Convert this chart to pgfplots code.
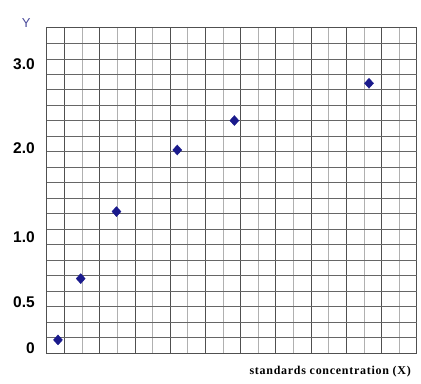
\documentclass[border=0pt]{standalone}
\usepackage{fontspec}
\setmainfont{Liberation Sans}
\newfontfamily\serifbold[LetterSpace=6]{Liberation Serif}
\usepackage{pgfplots}
\pgfplotsset{compat=1.18}
\definecolor{mk}{HTML}{1A1A8C}
\definecolor{ylab}{HTML}{4B4B9B}
\definecolor{gdark}{HTML}{505050}
\definecolor{glight}{HTML}{B0B0B0}
\definecolor{ghor}{HTML}{666666}
\begin{document}
\begin{tikzpicture}
\begin{axis}[
  scale only axis, width=370pt, height=325pt,
  xmin=0, xmax=21, ymin=0, ymax=21,
  xtick={1,3,...,21}, xticklabels={},
  minor xtick={2,4,...,20},
  xmajorgrids, xminorgrids,
  major grid style={gdark, line width=0.6pt},
  minor grid style={glight, line width=0.6pt},
  ytick={0.32,3.29,7.46,13.26,18.64},
  yticklabels={0,0.5,1.0,2.0,3.0},
  ymajorgrids=false,
  extra y ticks={1,...,20},
  extra y tick labels={},
  extra y tick style={grid=major, major grid style={ghor, line width=0.6pt}},
  major tick length=0pt, minor tick length=0pt,
  axis line style={gdark, line width=0.8pt},
  /pgf/number format/assume math mode=true,
  yticklabel style={font=\fontsize{15.5}{16}\selectfont\bfseries, anchor=east, inner sep=0pt, xshift=-11.7pt},
  clip=false,
]
\addplot[only marks, mark=diamond*, mark size=5pt, mark options={fill=mk, draw=mk, xscale=1.2}]
  coordinates {(0.64,0.84) (1.93,4.80) (3.96,9.13) (7.41,13.11) (10.65,15.01) (18.29,17.42)};
\path (axis cs:-2.65,-2.0) rectangle (axis cs:21.24,22.80);
\node[anchor=center, inner sep=0pt, text=ylab, font=\fontsize{13}{14}\selectfont] at (axis cs:-1.163,21.33) {Y};
\node[anchor=base west, inner sep=0pt, font=\fontsize{12}{13}\selectfont\serifbold\bfseries] at (axis cs:11.50,-1.421) {standards concentration (X)};
\end{axis}
\end{tikzpicture}
\end{document}
